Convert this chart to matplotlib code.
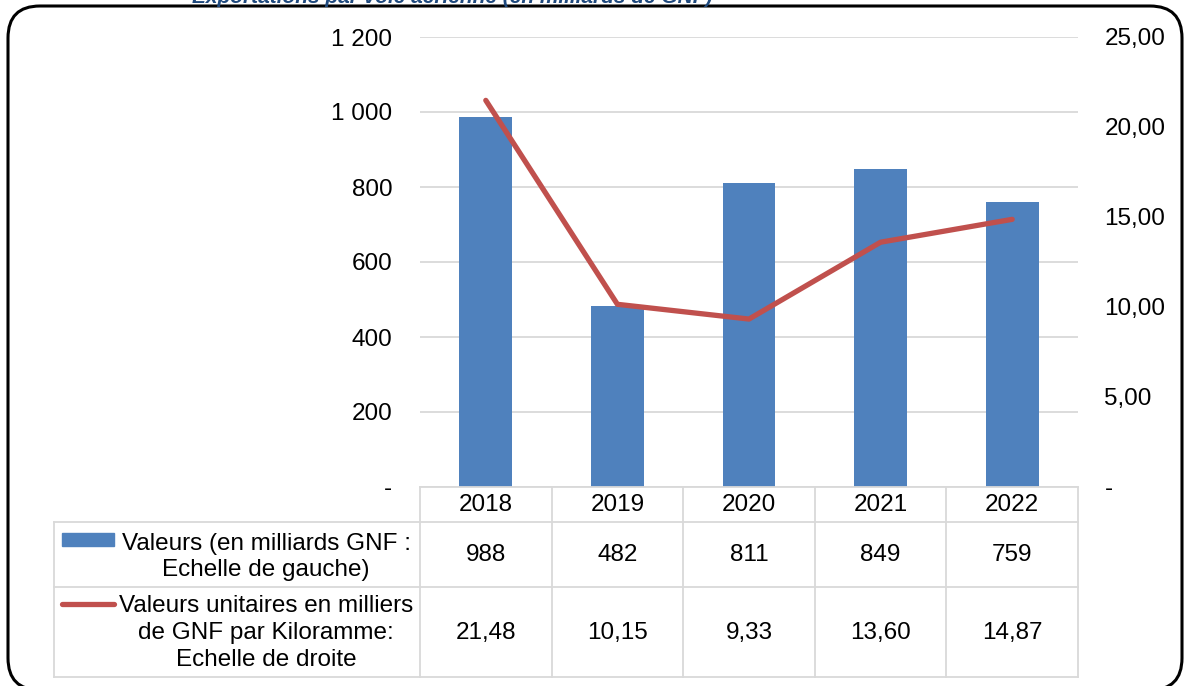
import matplotlib.pyplot as plt
from matplotlib.patches import FancyBboxPatch, Rectangle
from matplotlib.lines import Line2D

plt.rcParams['font.family'] = ['Liberation Sans', 'DejaVu Sans']

# === Donnees ===
annees = ['2018', '2019', '2020', '2021', '2022']
valeurs = [988, 482, 811, 849, 759]
valeurs_unitaires = [21.48, 10.15, 9.33, 13.60, 14.87]
labels_gauche = ['-', '200', '400', '600', '800', '1 000', '1 200']
labels_droite = ['-', '5,00', '10,00', '15,00', '20,00', '25,00']
serie_barres = 'Valeurs (en milliards GNF :\nEchelle de gauche)'
serie_ligne = 'Valeurs unitaires en milliers\nde GNF par Kiloramme:\nEchelle de droite'

bleu = '#4F81BD'
rouge = '#C0504D'
gris = '#D9D9D9'
W, H = 1184, 686
fs = 17.5

fig = plt.figure(figsize=(W / 100, H / 100), dpi=100)

# cadre arrondi
cadre = FancyBboxPatch((8 / W, -4 / H), 1174 / W, 684 / H,
                       boxstyle='round,pad=0,rounding_size=0.027',
                       transform=fig.transFigure, fill=False,
                       edgecolor='black', linewidth=2.2, mutation_aspect=W / H)
fig.patches.append(cadre)

# titre coupe en haut
fig.text(712 / W, 1 - 3 / H, 'Exportations par voie aérienne (en milliards de GNF)',
         ha='right', va='baseline', fontsize=15, fontweight='bold',
         fontstyle='italic', color='#1F497D')

# === Graphique ===
x0, x1 = 420, 1078
y_haut, y_bas = 37, 487
ax = fig.add_axes([x0 / W, 1 - y_bas / H, (x1 - x0) / W, (y_bas - y_haut) / H])
pos = list(range(len(annees)))
ax.bar(pos, valeurs, width=0.4, color=bleu, zorder=2)
ax.set_xlim(-0.5, len(annees) - 0.5)
ax.set_ylim(0, 1200)
ax.set_yticks([0, 200, 400, 600, 800, 1000, 1200])
ax.set_yticklabels(labels_gauche, fontsize=fs)
ax.set_xticks([])
ax.grid(axis='y', color=gris, linewidth=1.3, zorder=0)
for s in ax.spines.values():
    s.set_visible(False)
ax.tick_params(axis='y', length=0, pad=20)

ax2 = ax.twinx()
ax2.plot(pos, valeurs_unitaires, color=rouge, linewidth=3.8, solid_capstyle='round', zorder=3)
ax2.set_ylim(0, 25)
ax2.set_yticks([0, 5, 10, 15, 20, 25])
ax2.set_yticklabels(labels_droite, fontsize=fs)
ax2.tick_params(axis='y', length=0, pad=19)
for s in ax2.spines.values():
    s.set_visible(False)

# === Tableau ===
t_gauche, t_bas = 54, 677
larg_cat = (x1 - x0) / len(annees)
col_label = (x0 - t_gauche) / larg_cat
axt = fig.add_axes([t_gauche / W, 1 - t_bas / H, (x1 - t_gauche) / W, (t_bas - y_bas) / H])
axt.set_xlim(-0.5 - col_label, len(annees) - 0.5)
ylignes = [487, 522, 587, 677]
axt.set_ylim(t_bas, y_bas)
axt.axis('off')

for y in ylignes:
    xa = -0.5 if y == 487 else -0.5 - col_label
    axt.plot([xa, len(annees) - 0.5], [y, y], color=gris, linewidth=1.3, clip_on=False)
for i in range(len(annees) + 1):
    axt.plot([i - 0.5, i - 0.5], [487, 677], color=gris, linewidth=1.3, clip_on=False)
axt.plot([-0.5 - col_label] * 2, [522, 677], color=gris, linewidth=1.3, clip_on=False)

for i, a in enumerate(annees):
    axt.text(i, 505, a, ha='center', va='center', fontsize=fs)
    axt.text(i, 555, str(valeurs[i]), ha='center', va='center', fontsize=fs)
    axt.text(i, 633, f'{valeurs_unitaires[i]:.2f}'.replace('.', ','),
             ha='center', va='center', fontsize=fs)

xc = -0.5 - col_label + (266 - t_gauche) / larg_cat
axt.text(xc, 557, serie_barres, ha='center', va='center', fontsize=fs,
         linespacing=1.2)
axt.text(xc, 633, serie_ligne, ha='center', va='center', fontsize=fs,
         linespacing=1.27)
# symboles de legende
xl0 = -0.5 - col_label + (62 - t_gauche) / larg_cat
xl1 = -0.5 - col_label + (114 - t_gauche) / larg_cat
axt.add_patch(Rectangle((xl0, 533), xl1 - xl0, 13, color=bleu))
axt.add_line(Line2D([xl0, xl1], [604, 604], color=rouge, linewidth=3.8,
                    solid_capstyle='round'))

fig.savefig('out.png', dpi=100)
